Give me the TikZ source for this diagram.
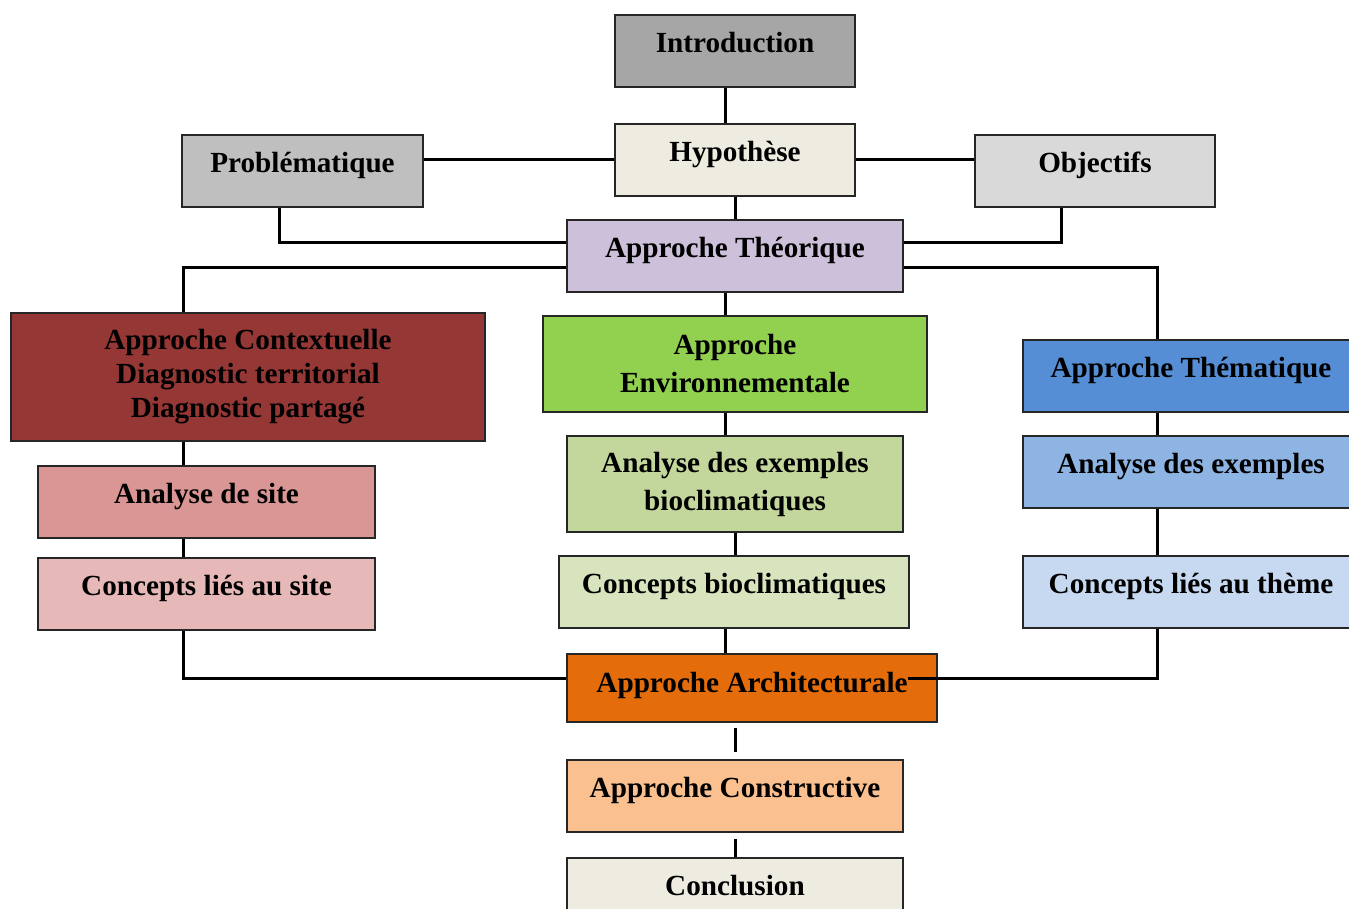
\documentclass[tikz,border=0pt]{standalone}
\usepackage{fontspec}
\setmainfont{Liberation Serif}
\usepackage{tikz}
\usetikzlibrary{positioning}
\usetikzlibrary{shapes.geometric, arrows}
\usepackage{xcolor}
\definecolor{grisA}{HTML}{A6A6A6}
\definecolor{grisB}{HTML}{BFBFBF}
\definecolor{grisC}{HTML}{D9D9D9}
\definecolor{creme}{HTML}{EEECE1}
\definecolor{lilas}{HTML}{CCC0DA}
\definecolor{brique}{HTML}{953735}
\definecolor{vertA}{HTML}{92D050}
\definecolor{vertB}{HTML}{C3D69B}
\definecolor{vertC}{HTML}{D7E4BD}
\definecolor{bleuA}{HTML}{558ED5}
\definecolor{bleuB}{HTML}{8EB4E3}
\definecolor{bleuC}{HTML}{C6D9F1}
\definecolor{roseA}{HTML}{D99694}
\definecolor{roseB}{HTML}{E6B9B8}
\definecolor{orange}{HTML}{E46C0A}
\definecolor{peche}{HTML}{FAC090}

\begin{document}
\begin{tikzpicture}[x=0.5pt,y=-0.5pt,main/.style = {draw=black!85, rectangle, line width=0.9pt, inner sep=0pt, align=center, font=\bfseries\fontsize{14.6}{19}\selectfont},one/.style = {text height=10pt, text depth=8.4pt},link/.style = {line width=1.5pt}]
        \useasboundingbox (0,0) rectangle (1349,909);
        \node[main,one,fill=grisA,minimum width=120pt,minimum height=36pt] (1) at (735,51) {Introduction};
        \node[main,one,fill=creme,minimum width=120pt,minimum height=36pt] (2) at (735,160) {Hypothèse};
        \node[main,one,fill=grisB,minimum width=120.5pt,minimum height=36pt] (3) at (302.5,171) {Problématique};
        \node[main,one,fill=grisC,minimum width=120pt,minimum height=36pt] (4) at (1095,171) {Objectifs};
        \node[main,one,fill=lilas,minimum width=168pt,minimum height=36pt] (5) at (735,256) {Approche Théorique};
        \node[main,fill=brique,minimum width=237pt,minimum height=64pt] (6) at (248,377) {Approche Contextuelle\\[-2pt]Diagnostic territorial\\[-2pt]Diagnostic partagé};
        \node[main,fill=vertA,minimum width=192pt,minimum height=48pt] (7) at (735,364) {Approche\\Environnementale};
        \node[main,one,fill=bleuA,minimum width=168pt,minimum height=36pt] (8) at (1191,376) {Approche Thématique};
        \node[main,one,fill=roseA,minimum width=168.5pt,minimum height=36pt] (9) at (206.5,502) {Analyse de site};
        \node[main,one,fill=roseB,minimum width=168.5pt,minimum height=36pt] (10) at (206.5,594) {Concepts liés au site};
        \node[main,fill=vertB,minimum width=168pt,minimum height=48pt] (11) at (735,484) {Analyse des exemples\\bioclimatiques};
        \node[main,one,fill=vertC,minimum width=175pt,minimum height=36pt] (12) at (734,592) {Concepts bioclimatiques};
        \node[main,one,fill=bleuB,minimum width=168pt,minimum height=36pt] (13) at (1191,472) {Analyse des exemples};
        \node[main,one,fill=bleuC,minimum width=168pt,minimum height=36pt] (14) at (1191,592) {Concepts liés au thème};
        \node[main,one,text depth=5.4pt,fill=orange,minimum width=185pt,minimum height=34pt] (15) at (752,688) {Approche Architecturale};
        \node[main,one,fill=peche,minimum width=168pt,minimum height=36pt] (16) at (735,796) {Approche Constructive};
        \node[main,one,fill=creme,minimum width=168pt,minimum height=36pt] (17) at (735,894) {Conclusion};
        \coordinate (c) at (908,678);
        \path[link]
        ([xshift=-5pt]1.south) edge ([xshift=-5pt]2.north)
        (3.east |- 2.west) edge (2.west)
        (2.east) edge (2.east -| 4.west)
        (2.south) edge (5.north)
        ([xshift=-5pt]5.south) edge ([xshift=-5pt]7.north)
        ([xshift=-11.75pt]9.south) edge ([xshift=-11.75pt]10.north)
        ([xshift=-5pt]7.south) edge ([xshift=-5pt]11.north)
        (11.south) edge (11.south |- 12.north)
        ([xshift=-4.5pt]12.south) edge ([xshift=-4.5pt]12.south |- 15.north)
        ([xshift=-17pt]8.south) edge ([xshift=-17pt]13.north)
        ([xshift=-17pt]13.south) edge ([xshift=-17pt]14.north)
        ([xshift=-8.5pt]15.south) edge[shorten <=2.5pt,shorten >=3.5pt] ([xshift=-8.5pt]15.south |- 16.north)
        (16.south) edge[shorten <=3pt] (17.north);
        \draw[link] ([xshift=-11.75pt]3.south) |- ([yshift=6.5pt]5.west);
        \draw[link] ([xshift=-17pt]4.south) |- ([yshift=6.5pt]5.east);
        \draw[link] ([yshift=-6pt]5.west) -| ([xshift=-32.5pt]6.north);
        \draw[link] ([yshift=-6pt]5.east) -| ([xshift=-17pt]8.north);
        \draw[link] ([xshift=-32.5pt]6.south) -- ([xshift=-32.5pt]6.south |- 9.north);
        \draw[link] ([xshift=-11.75pt]10.south) |- ([yshift=5pt]15.west);
        \draw[link] ([xshift=-17pt]14.south) |- (c);
      \end{tikzpicture}
\end{document}
